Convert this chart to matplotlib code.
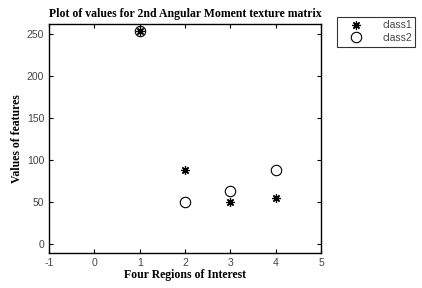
import matplotlib
matplotlib.use("Agg")
import matplotlib.pyplot as plt

plt.rcParams['axes.unicode_minus'] = False

regions = [1, 2, 3, 4]
class1 = [254, 88, 51, 55]
class2 = [254, 51, 63, 88]
xticks = [-1, 0, 1, 2, 3, 4, 5]
yticks = [0, 50, 100, 150, 200, 250]

fig = plt.figure(figsize=(4.22, 2.88), dpi=100)
ax = fig.add_axes([0.116, 0.122, 0.645, 0.795])
l1, = ax.plot(regions, class1, linestyle='none', marker=(8, 2, 0), color='black',
              markersize=6, markeredgewidth=0.9)
l2, = ax.plot(regions, class2, linestyle='none', marker='o', markerfacecolor='none',
              markeredgecolor='black', markersize=7.5, markeredgewidth=0.8)
ax.set_xlim(-1, 5)
ax.set_ylim(-10, 262)
ax.set_xticks(xticks)
ax.set_yticks(yticks)
ax.tick_params(direction='in', top=True, right=True, length=3, labelsize=7.5,
               labelcolor='#444444', width=0.8)
for lab in ax.get_xticklabels() + ax.get_yticklabels():
    lab.set_family('Liberation Sans')
for s in ax.spines.values():
    s.set_linewidth(1.0)
ax.set_title('Plot of values for 2nd Angular Moment texture matrix', fontsize=8.5,
             fontweight='bold', family='Liberation Serif', pad=5)
ax.set_xlabel('Four Regions of Interest', fontsize=8.5, fontweight='bold',
              family='Liberation Serif', labelpad=1)
ax.set_ylabel('Values of features', fontsize=8.5, fontweight='bold',
              family='Liberation Serif', labelpad=3)
leg = fig.legend([l1, l2], ['class1', 'class2'], loc='upper left',
                 bbox_to_anchor=(0.798, 0.942), frameon=True,
                 fancybox=False, edgecolor='black', handlelength=3.0,
                 borderpad=0.35, labelspacing=0.25, handletextpad=1.0,
                 borderaxespad=0.0,
                 prop={'family': 'Liberation Sans', 'size': 7.5})
leg.get_frame().set_linewidth(0.8)
for t in leg.get_texts():
    t.set_color('#444444')
fig.savefig('out.png', dpi=100)
